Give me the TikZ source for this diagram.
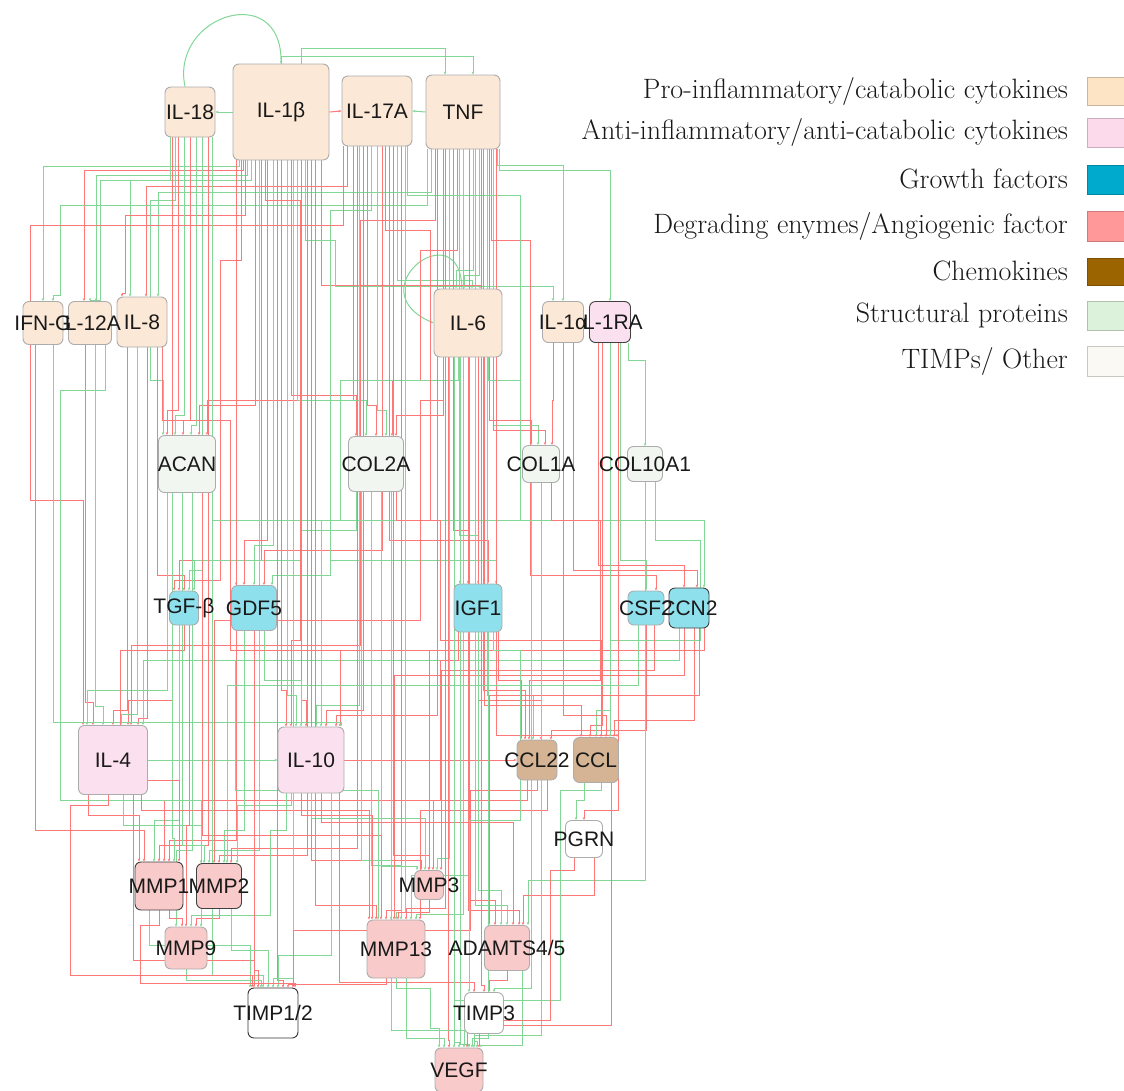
\documentclass[tikz,border=0pt]{standalone}
\usepackage{fontspec}
\usepackage{tikz}
\usetikzlibrary{calc, positioning, arrows.meta}

\newfontfamily\genefamily{Liberation Sans}
\newcommand{\genefont}{\genefamily\fontsize{21}{22}\selectfont}
\newcommand{\legfont}{\fontsize{28}{30}\selectfont}
% gene label, allowed to run over its box
\newcommand{\gl}[1]{\makebox[0pt]{#1}}

% node fills
\definecolor{proinf}{RGB}{252,232,214}
\definecolor{antiinf}{RGB}{251,224,240}
\definecolor{growth}{RGB}{142,224,236}
\definecolor{degrad}{RGB}{248,202,202}
\definecolor{chemo}{RGB}{212,180,148}
\definecolor{struct}{RGB}{242,246,240}
% legend swatches
\definecolor{legpro}{RGB}{253,228,196}
\definecolor{legant}{RGB}{253,217,236}
\definecolor{leggro}{RGB}{0,170,204}
\definecolor{legdeg}{RGB}{255,153,153}
\definecolor{legche}{RGB}{155,100,0}
\definecolor{legstr}{RGB}{220,242,218}
\definecolor{legoth}{RGB}{250,249,243}
% wires
\definecolor{wirered}{RGB}{255,120,120}
\definecolor{wiregreen}{RGB}{130,215,150}

\pgfdeclarelayer{wires}
\pgfsetlayers{wires,main}

% orthogonal wire: style, from, dx, level, to, dx
\newcommand{\wire}[6]{%
  \path ($(#2)+(#3,0)$) coordinate (ws) ($(#5)+(#6,0)$) coordinate (wt);
  \draw[#1] (ws) |- (wt |- 0,#4) -- (wt);}
% wire with a jog: style, from, dx, level1, mid x, level2, to, dx
\newcommand{\wirez}[8]{%
  \path ($(#2)+(#3,0)$) coordinate (ws) ($(#7)+(#8,0)$) coordinate (wt);
  \draw[#1] (ws) |- (#5,#4) |- (wt |- 0,#6) -- (wt);}

\begin{document}
\begin{tikzpicture}[x=1pt, y=-1pt,
    gene/.style={rounded corners=6pt, draw=gray!65, line width=0.9pt, inner sep=0pt,
                 font=\genefont, text=black!90},
    dark/.style={draw=black!75},
    redw/.style={draw=wirered, line width=1pt, -{Stealth[length=3pt,width=2.5pt]}},
    greenw/.style={draw=wiregreen, line width=1pt, -{Stealth[length=3pt,width=2.5pt]}},
    legtext/.style={anchor=east, font=\legfont, text=black!90, inner sep=0pt}]
\useasboundingbox (0,0) rectangle (1124,1090);

% cytokines, top row
\node[gene, fill=proinf, minimum size=50pt] (il18) at (190,112) {\gl{IL-18}};
\node[gene, fill=proinf, minimum size=96pt] (ilbeta) at (281,112) {\gl{IL-1β}};
\node[gene, fill=proinf, minimum size=70pt] (il17a) at (377,111) {\gl{IL-17A}};
\node[gene, fill=proinf, minimum size=74pt] (tnf) at (463,112) {\gl{TNF}};

% cytokines, second row
\node[gene, fill=proinf, minimum size=50pt] (il8) at (142,322) {\gl{IL-8}};
\node[gene, fill=proinf, minimum size=43pt] (il12a) at (90,323) {\gl{IL-12A}};
\node[gene, fill=proinf, minimum width=40pt, minimum height=43pt] (ifng) at (43,323) {\gl{IFN-G}};
\node[gene, fill=proinf, minimum size=68pt] (il6) at (468,323) {\gl{IL-6}};
\node[gene, fill=antiinf, dark, minimum size=41pt] (il1ra) at (610,322) {\gl{IL-1RA}};
\node[gene, fill=proinf, minimum size=41pt] (ila) at (563,322) {\gl{IL-1α}};

% structural proteins
\node[gene, fill=struct, minimum size=57pt] (acan) at (187,464) {\gl{ACAN}};
\node[gene, fill=struct, minimum size=55pt] (col2a) at (376,464) {\gl{COL2A}};
\node[gene, fill=struct, minimum size=37pt] (col1a) at (541,464) {\gl{COL1A}};
\node[gene, fill=struct, minimum size=35pt] (col10a) at (645,464) {\gl{COL10A1}};

% growth factors
\node[gene, fill=growth, minimum width=29pt, minimum height=34pt] (tgfb) at (184,608) {\gl{TGF-β}};
\node[gene, fill=growth, minimum size=45pt] (gdf5) at (254,608) {\gl{GDF5}};
\node[gene, fill=growth, minimum size=48pt] (igf1) at (478,608) {\gl{IGF1}};
\node[gene, fill=growth, dark, minimum size=40pt] (ccn2) at (689,608) {\gl{CCN2}};
\node[gene, fill=growth, minimum width=36pt, minimum height=34pt] (csf2) at (646,608) {\gl{CSF2}};

% anti-inflammatory and chemokines
\node[gene, fill=antiinf, minimum size=69pt] (il4) at (113,760) {\gl{IL-4}};
\node[gene, fill=antiinf, minimum size=66pt] (il10) at (311,760) {\gl{IL-10}};
\node[gene, fill=chemo, minimum size=40pt] (ccl22) at (537,760) {\gl{CCL22}};
\node[gene, fill=chemo, minimum size=45pt] (ccl) at (596,760) {\gl{CCL}};
\node[gene, fill=white, minimum size=37pt] (pgrn) at (584,839) {\gl{PGRN}};

% enzymes, TIMPs, VEGF
\node[gene, fill=degrad, dark, minimum size=45pt] (mmp2) at (219,886) {\gl{MMP2}};
\node[gene, fill=degrad, dark, minimum size=48pt] (mmp1) at (159,886) {\gl{MMP1}};
\node[gene, fill=degrad, minimum size=29pt] (mmp3) at (429,885) {\gl{MMP3}};
\node[gene, fill=degrad, minimum size=42pt] (mmp9) at (186,948) {\gl{MMP9}};
\node[gene, fill=degrad, minimum size=58pt] (mmp13) at (396,949) {\gl{MMP13}};
\node[gene, fill=degrad, minimum size=45pt] (adamts) at (507,948) {\gl{ADAMTS4/5}};
\node[gene, fill=white, draw=black!80, minimum size=50pt] (timp12) at (273,1013) {\gl{TIMP1/2}};
\node[gene, fill=white, minimum width=39pt, minimum height=41pt] (timp3) at (484,1013) {\gl{TIMP3}};
\node[gene, fill=degrad, minimum width=48pt, minimum height=44pt] (vegf) at (459,1070) {\gl{VEGF}};

% legend
\node[legtext] (leg1) at (1068,91) {Pro-inflammatory/catabolic cytokines};
\node[legtext] (leg2) at (1068,132) {Anti-inflammatory/anti-catabolic cytokines};
\node[legtext] (leg3) at (1068,179) {Growth factors};
\node[legtext] (leg4) at (1068,226) {Degrading enymes/Angiogenic factor};
\node[legtext] (leg5) at (1068,271) {Chemokines};
\node[legtext] (leg6) at (1068,315) {Structural proteins};
\node[legtext] (leg7) at (1068,361) {TIMPs/ Other};
\filldraw[fill=legpro, draw=legpro!80!black] (1087,77) rectangle (1130,105);
\filldraw[fill=legant, draw=legant!80!black] (1087,118) rectangle (1130,147);
\filldraw[fill=leggro, draw=leggro!80!black] (1087,165) rectangle (1130,194);
\filldraw[fill=legdeg, draw=legdeg!80!black] (1087,211) rectangle (1130,241);
\filldraw[fill=legche, draw=legche!80!black] (1087,258) rectangle (1130,285);
\filldraw[fill=legstr, draw=legstr!80!black] (1087,301) rectangle (1130,330);
\filldraw[fill=legoth, draw=legoth!80!black] (1087,346) rectangle (1130,376);

\begin{pgfonlayer}{wires}
% top row links
\draw[greenw] ([xshift=-5pt]il18.north) .. controls (170,15) and (282,-20) .. (ilbeta.north);
\draw[greenw] (ilbeta.west) -- (il18.east);
\draw[redw] (ilbeta.east) -- (il17a.west);
\draw[greenw] (tnf.west) -- (il17a.east);
\wire{greenw}{ilbeta.north}{0}{56}{tnf.north}{10}
\wire{greenw}{ilbeta.north}{20}{48}{tnf.north}{-18}
\draw[greenw] ([xshift=-6pt]il6.north) .. controls (460,210) and (355,290) .. (il6.west);

% top row -> second row
\wire{greenw}{ilbeta.south}{-42}{166}{ifng.north}{0}
\wire{redw}{ilbeta.south}{-38}{170}{il12a.north}{-6}
\wire{greenw}{ilbeta.south}{-34}{175}{il12a.north}{6}
\wire{greenw}{ilbeta.south}{-30}{180}{il8.north}{-12}
\wire{redw}{il17a.south}{-30}{186}{il8.north}{4}
\wire{greenw}{tnf.south}{-32}{192}{il8.north}{16}
\wirez{greenw}{il18.south}{-20}{180}{100}{300}{il12a.north}{0}
\wirez{redw}{ilbeta.south}{-36}{215}{125}{293}{il8.north}{-20}
\wirez{greenw}{tnf.south}{-36}{205}{60}{295}{ifng.north}{10}
\wire{greenw}{tnf.south}{10}{270}{il6.north}{-12}
\wire{greenw}{tnf.south}{16}{275}{il6.north}{-4}
\wire{greenw}{il17a.south}{20}{280}{il6.north}{4}
\wire{redw}{ilbeta.south}{40}{285}{il6.north}{12}
\wire{greenw}{tnf.south}{34}{165}{ila.north}{0}
\wire{greenw}{tnf.south}{36}{170}{il1ra.north}{0}
\wirez{greenw}{ilbeta.south}{24}{240}{335}{286}{ila.north}{-10}

% -> structural proteins
\wire{redw}{il18.south}{-12}{410}{acan.north}{-20}
\wire{greenw}{il18.south}{-6}{415}{acan.north}{-12}
\wire{redw}{il18.south}{0}{420}{acan.north}{-4}
\wire{greenw}{il18.south}{6}{425}{acan.north}{4}
\wire{redw}{ilbeta.south}{-26}{405}{acan.north}{12}
\wire{redw}{il17a.south}{-24}{400}{acan.north}{20}
\wirez{greenw}{il18.south}{-15}{200}{150}{380}{acan.north}{-24}
\wire{redw}{ilbeta.south}{10}{395}{col2a.north}{-20}
\wire{greenw}{ilbeta.south}{16}{400}{col2a.north}{-10}
\wire{redw}{il17a.south}{-10}{405}{col2a.north}{0}
\wire{greenw}{il17a.south}{0}{410}{col2a.north}{10}
\wire{redw}{tnf.south}{-20}{415}{col2a.north}{20}
\wirez{redw}{tnf.south}{-6}{250}{420}{380}{col2a.north}{16}
\wire{redw}{tnf.south}{26}{420}{col1a.north}{-10}
\wire{greenw}{tnf.south}{30}{425}{col1a.north}{-3}
\wire{redw}{il6.south}{25}{430}{col1a.north}{4}
\wire{redw}{ila.south}{-10}{400}{col1a.north}{11}
\wire{greenw}{il1ra.south}{18}{360}{col10a.north}{0}

% -> growth factors
\wire{redw}{ilbeta.south}{-20}{560}{tgfb.north}{-5}
\wire{greenw}{il18.south}{12}{570}{tgfb.north}{5}
\wire{redw}{il8.south}{15}{575}{tgfb.north}{0}
\wirez{redw}{ilbeta.south}{-40}{260}{220}{580}{tgfb.north}{-10}
\wirez{greenw}{col2a.south}{-20}{530}{300}{560}{tgfb.north}{10}
\wire{redw}{ilbeta.south}{-14}{540}{gdf5.north}{-10}
\wire{greenw}{ilbeta.south}{-8}{545}{gdf5.north}{0}
\wire{redw}{il17a.south}{5}{550}{gdf5.north}{10}
\wirez{greenw}{il17a.south}{-6}{210}{330}{575}{gdf5.north}{18}
\wirez{greenw}{il6.south}{-10}{380}{340}{520}{gdf5.north}{-18}
\wire{redw}{tnf.south}{-10}{530}{igf1.north}{-10}
\wire{greenw}{tnf.south}{-4}{535}{igf1.north}{0}
\wire{redw}{il17a.south}{12}{540}{igf1.north}{10}
\wirez{redw}{il17a.south}{8}{230}{430}{520}{igf1.north}{-18}
\wirez{greenw}{acan.south}{25}{520}{330}{560}{igf1.north}{18}
\wire{greenw}{il1ra.south}{10}{560}{csf2.north}{0}
\wirez{redw}{tnf.south}{28}{240}{530}{575}{csf2.north}{10}
\wire{redw}{il1ra.south}{-12}{565}{ccn2.north}{-5}
\wire{redw}{ila.south}{10}{570}{ccn2.north}{8}
\wirez{greenw}{il17a.south}{30}{195}{520}{520}{ccn2.north}{15}

% -> IL-4 and IL-10
\wire{redw}{il18.south}{-18}{700}{il4.north}{15}
\wire{redw}{il12a.south}{-5}{702}{il4.north}{-20}
\wire{greenw}{il12a.south}{5}{706}{il4.north}{-10}
\wire{redw}{il8.south}{-15}{710}{il4.north}{0}
\wire{greenw}{il8.south}{-5}{714}{il4.north}{8}
\wire{redw}{il8.south}{5}{718}{il4.north}{25}
\wire{greenw}{acan.south}{-20}{690}{il4.north}{-26}
\wire{greenw}{ccn2.south}{-10}{660}{il4.north}{30}
\wirez{redw}{tnf.south}{-28}{220}{360}{645}{il4.north}{18}
\wirez{redw}{il17a.south}{-34}{225}{30}{500}{il4.north}{-30}
\wire{redw}{ilbeta.south}{0}{690}{il10.north}{-25}
\wire{greenw}{ilbeta.south}{6}{695}{il10.north}{-15}
\wire{redw}{ilbeta.south}{20}{700}{il10.north}{-5}
\wire{greenw}{il17a.south}{-18}{705}{il10.north}{5}
\wire{redw}{il17a.south}{-14}{710}{il10.north}{15}
\wire{redw}{tnf.south}{-26}{715}{il10.north}{25}
\wire{greenw}{gdf5.south}{10}{680}{il10.north}{-10}
\wire{redw}{ccn2.south}{15}{650}{il10.north}{29}
\wire{greenw}{ifng.south}{10}{722}{il10.north}{30}
\wirez{redw}{ilbeta.south}{-16}{200}{300}{640}{il10.north}{-20}
\wirez{greenw}{il6.south}{20}{380}{520}{520}{il10.north}{10}
\draw[greenw] (il4.east) -- (il10.west);
\draw[redw] (il10.east) -- (ccl22.west);

% -> chemokines, PGRN
\wire{redw}{tnf.south}{20}{690}{ccl22.north}{-12}
\wire{greenw}{tnf.south}{24}{695}{ccl22.north}{-4}
\wire{redw}{il6.south}{10}{700}{ccl22.north}{4}
\wire{redw}{csf2.south}{0}{730}{ccl22.north}{14}
\wire{redw}{igf1.south}{20}{680}{ccl22.north}{-16}
\wirez{redw}{col1a.south}{10}{520}{600}{680}{ccl22.north}{-8}
\wire{redw}{il6.south}{16}{705}{ccl.north}{-15}
\wire{redw}{il1ra.south}{-8}{725}{ccl.north}{-6}
\wire{greenw}{il1ra.south}{0}{710}{ccl.north}{0}
\wire{redw}{ila.south}{0}{715}{ccl.north}{10}
\wire{redw}{ccn2.south}{5}{720}{ccl.north}{18}
\wire{redw}{tnf.south}{33}{735}{ccl.north}{21}
\wirez{redw}{col2a.south}{20}{520}{440}{640}{ccl.north}{5}
\wirez{greenw}{col10a.south}{10}{540}{700}{640}{ccl.north}{14}
\wire{redw}{il1ra.south}{8}{810}{pgrn.north}{0}
\wire{greenw}{ccl.south}{-12}{800}{pgrn.north}{-8}

% -> MMPs
\wire{redw}{ifng.south}{-8}{830}{mmp1.north}{-15}
\wire{redw}{ilbeta.south}{-45}{840}{mmp1.north}{10}
\wire{redw}{il18.south}{18}{845}{mmp1.north}{0}
\wire{greenw}{acan.south}{-15}{838}{mmp1.north}{15}
\wire{greenw}{tgfb.south}{-5}{820}{mmp1.north}{-5}
\wire{redw}{il4.south}{-25}{815}{mmp1.north}{-20}
\wirez{redw}{tgfb.south}{0}{650}{120}{780}{mmp1.north}{20}
\wirez{redw}{igf1.south}{-20}{660}{440}{800}{mmp1.north}{5}
\wire{greenw}{ilbeta.south}{-22}{850}{mmp2.north}{-10}
\wire{redw}{ilbeta.south}{26}{855}{mmp2.north}{0}
\wire{redw}{il17a.south}{-20}{848}{mmp2.north}{12}
\wire{greenw}{acan.south}{-5}{845}{mmp2.north}{-15}
\wire{greenw}{gdf5.south}{-10}{830}{mmp2.north}{5}
\wire{greenw}{il4.south}{10}{825}{mmp2.north}{-18}
\wire{greenw}{il10.south}{-20}{805}{mmp2.north}{18}
\wire{greenw}{csf2.south}{-8}{685}{mmp2.north}{8}
\wirez{redw}{il6.south}{-25}{400}{420}{620}{mmp2.north}{-5}
\wire{redw}{ilbeta.south}{30}{860}{mmp3.north}{-8}
\wire{redw}{il17a.south}{16}{855}{mmp3.north}{0}
\wire{greenw}{tnf.south}{-14}{858}{mmp3.north}{8}
\wire{greenw}{col2a.south}{5}{866}{mmp3.north}{-12}
\wire{redw}{csf2.south}{8}{670}{mmp3.north}{12}
\wire{greenw}{il10.south}{0}{818}{mmp3.north}{-4}
\wire{redw}{ccl22.south}{-10}{800}{mmp3.north}{4}
\wirez{redw}{il8.south}{20}{420}{230}{650}{mmp3.north}{0}
\wire{greenw}{acan.south}{5}{850}{mmp9.north}{-10}
\wire{redw}{tgfb.south}{5}{825}{mmp9.north}{0}
\wire{redw}{mmp1.south}{10}{918}{mmp9.north}{-4}
\wire{redw}{mmp2.south}{0}{918}{mmp9.north}{10}
\wirez{greenw}{il12a.south}{15}{390}{60}{800}{mmp9.north}{15}
\wirez{greenw}{il10.south}{-25}{830}{270}{915}{mmp9.north}{5}
\wire{redw}{ilbeta.south}{34}{905}{mmp13.north}{-20}
\wire{redw}{il17a.south}{24}{910}{mmp13.north}{-10}
\wire{greenw}{il17a.south}{28}{912}{mmp13.north}{0}
\wire{redw}{tnf.south}{-18}{908}{mmp13.north}{10}
\wire{greenw}{tnf.south}{0}{914}{mmp13.north}{20}
\wire{redw}{acan.south}{15}{835}{mmp13.north}{-15}
\wire{greenw}{col2a.south}{-15}{860}{mmp13.north}{-5}
\wire{greenw}{col2a.south}{-5}{865}{mmp13.north}{5}
\wire{greenw}{igf1.south}{-10}{875}{mmp13.north}{15}
\wire{redw}{il4.south}{28}{810}{mmp13.north}{-27}
\wire{redw}{il10.south}{-10}{815}{mmp13.north}{-24}
\wire{redw}{ccl22.south}{10}{810}{mmp13.north}{24}
\wire{redw}{mmp3.south}{0}{912}{mmp13.north}{2}
\wire{redw}{ccn2.south}{-5}{675}{mmp13.north}{-2}
\wirez{greenw}{gdf5.south}{5}{660}{235}{790}{mmp13.north}{-18}

% -> ADAMTS4/5
\wire{redw}{tnf.south}{6}{900}{adamts.north}{-12}
\wire{greenw}{tnf.south}{12}{905}{adamts.north}{0}
\wire{redw}{il6.south}{0}{910}{adamts.north}{12}
\wire{greenw}{igf1.south}{0}{890}{adamts.north}{-6}
\wire{redw}{il10.south}{10}{822}{adamts.north}{6}
\wire{greenw}{col10a.south}{0}{880}{adamts.north}{21}
\wire{redw}{pgrn.south}{10}{895}{adamts.north}{16}
\wire{redw}{ccn2.south}{10}{695}{adamts.north}{-18}

% -> TIMPs
\wire{redw}{ilbeta.south}{-4}{980}{timp12.north}{10}
\wire{greenw}{il18.south}{22}{975}{timp12.north}{-10}
\wire{greenw}{ilbeta.south}{12}{978}{timp12.north}{0}
\wire{redw}{gdf5.south}{0}{970}{timp12.north}{-15}
\wire{redw}{il4.south}{20}{960}{timp12.north}{-19}
\wire{greenw}{il10.south}{20}{955}{timp12.north}{5}
\wire{redw}{mmp13.south}{-10}{984}{timp12.north}{15}
\wire{greenw}{mmp1.south}{-10}{945}{timp12.north}{-23}
\wire{greenw}{mmp2.south}{12}{950}{timp12.north}{-5}
\wire{greenw}{mmp9.south}{0}{980}{timp12.north}{-12}
\wirez{redw}{ccl22.south}{0}{790}{470}{930}{timp12.north}{20}
\wirez{redw}{il4.south}{-5}{805}{70}{975}{timp12.north}{-21}
\wirez{redw}{mmp1.south}{0}{925}{140}{983}{timp12.north}{22}
\wire{redw}{tnf.south}{18}{985}{timp3.north}{0}
\wire{redw}{il10.south}{28}{982}{timp3.north}{-10}
\wire{greenw}{col1a.south}{-10}{988}{timp3.north}{10}
\wire{redw}{adamts.south}{0}{980}{timp3.north}{5}
\wirez{greenw}{igf1.south}{15}{650}{520}{820}{timp3.north}{-15}

% -> VEGF
\wire{redw}{il6.south}{-20}{1040}{vegf.north}{-10}
\wire{greenw}{il6.south}{-14}{1042}{vegf.north}{0}
\wire{greenw}{il6.south}{-8}{1044}{vegf.north}{10}
\wire{greenw}{col2a.south}{15}{1030}{vegf.north}{5}
\wire{greenw}{col1a.south}{0}{1035}{vegf.north}{15}
\wire{greenw}{igf1.south}{10}{1038}{vegf.north}{13}
\wire{redw}{ccl.south}{15}{1025}{vegf.north}{20}
\wire{greenw}{mmp13.south}{10}{1038}{vegf.north}{-15}
\wire{greenw}{adamts.south}{15}{1045}{vegf.north}{22}
\wire{greenw}{timp3.south}{-10}{1041}{vegf.north}{18}
\wirez{greenw}{ccl.south}{5}{790}{560}{1000}{vegf.north}{-5}
\wirez{redw}{pgrn.south}{-10}{870}{550}{1020}{vegf.north}{8}
\wirez{greenw}{mmp13.south}{0}{988}{430}{1028}{vegf.north}{-20}
\end{pgfonlayer}
\end{tikzpicture}
\end{document}
